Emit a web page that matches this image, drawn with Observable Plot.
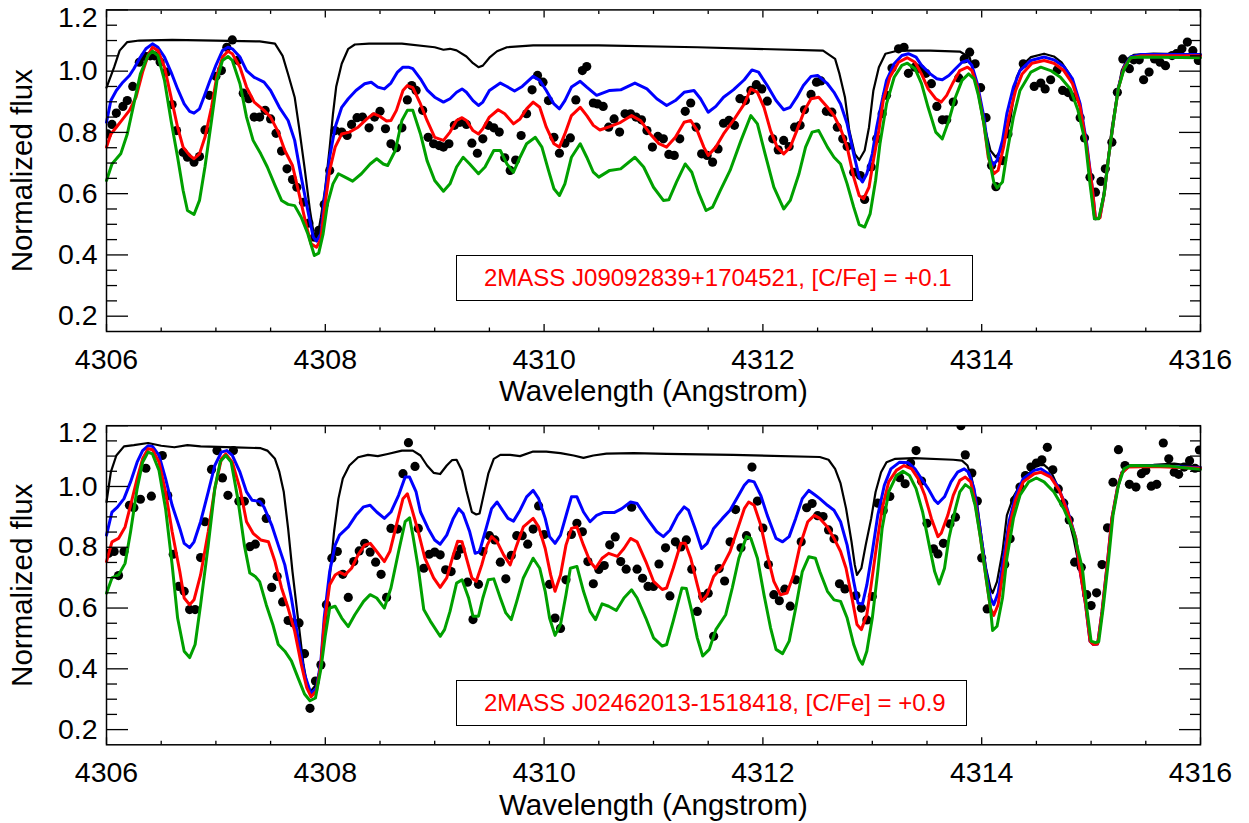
<!DOCTYPE html>
<html>
<head>
<meta charset="utf-8">
<script src="https://cdn.jsdelivr.net/npm/d3@7"></script>
<script src="https://cdn.jsdelivr.net/npm/@observablehq/plot@0.6"></script>
<style>
  html, body { margin: 0; padding: 0; background: #fff; }
  #wrap { position: relative; width: 1249px; height: 823px; overflow: hidden; font-family: "Liberation Sans", Arial, sans-serif; }
  #wrap svg { display: block; }
  .box { position: absolute; box-sizing: border-box; border: 1.5px solid #000; height: 46px; line-height: 43px;
         padding-left: 27px; color: #ff0000; font-size: 24px; white-space: nowrap; font-family: "Liberation Sans", Arial, sans-serif; }
</style>
</head>
<body>
<div id="wrap">
  <div id="p1"></div>
  <div id="p2"></div>
  <div class="box" id="b1" style="left:456px; top:255px; width:517px;"></div>
  <div class="box" id="b2" style="left:456px; top:680px; width:511px;"></div>
</div>
<script>
// ---------- axis ticks / labels ----------
const xTicks = [4306, 4308, 4310, 4312, 4314, 4316];
const xMinor = [4306.5, 4307, 4307.5, 4308.5, 4309, 4309.5, 4310.5, 4311, 4311.5, 4312.5, 4313, 4313.5, 4314.5, 4315, 4315.5];
const yTicks = [0.2, 0.4, 0.6, 0.8, 1.0, 1.2];
const yMinor = [0.25, 0.3, 0.35, 0.45, 0.5, 0.55, 0.65, 0.7, 0.75, 0.85, 0.9, 0.95, 1.05, 1.1, 1.15];
const xLabel = "Wavelength (Angstrom)";
const yLabel = "Normalized flux";
const labelTop = "2MASS J09092839+1704521, [C/Fe] = +0.1";
const labelBottom = "2MASS J02462013-1518418, [C/Fe] = +0.9";

// ---------- top panel: models (wavelength, flux) ----------
const topBlack = [[4306.00,0.946],[4306.07,1.013],[4306.12,1.067],[4306.19,1.095],[4306.30,1.100],[4306.60,1.102],[4307.00,1.100],[4307.40,1.097],[4307.54,1.090],[4307.61,1.050],[4307.66,0.990],[4307.72,0.915],[4307.76,0.817],[4307.81,0.686],[4307.86,0.545],[4307.90,0.456],[4307.93,0.463],[4307.96,0.523],[4308.00,0.620],[4308.04,0.750],[4308.07,0.860],[4308.10,0.950],[4308.15,1.024],[4308.21,1.073],[4308.27,1.087],[4308.40,1.090],[4308.70,1.090],[4309.00,1.078],[4309.08,1.070],[4309.14,1.073],[4309.20,1.068],[4309.29,1.048],[4309.35,1.026],[4309.40,1.013],[4309.44,1.018],[4309.50,1.044],[4309.57,1.065],[4309.66,1.078],[4309.90,1.084],[4310.50,1.084],[4311.40,1.078],[4312.55,1.067],[4312.66,1.040],[4312.70,0.991],[4312.75,0.915],[4312.79,0.806],[4312.84,0.730],[4312.88,0.710],[4312.93,0.741],[4312.97,0.817],[4313.01,0.937],[4313.06,1.013],[4313.12,1.057],[4313.21,1.065],[4313.29,1.067],[4313.53,1.067],[4313.80,1.064],[4313.89,1.045],[4313.96,0.948],[4314.02,0.828],[4314.08,0.741],[4314.13,0.719],[4314.19,0.750],[4314.26,0.839],[4314.32,0.980],[4314.37,1.019],[4314.45,1.046],[4314.57,1.057],[4314.66,1.048],[4314.73,1.029],[4314.81,0.986],[4314.89,0.904],[4314.95,0.774],[4314.99,0.643],[4315.03,0.518],[4315.07,0.518],[4315.11,0.589],[4315.15,0.697],[4315.19,0.817],[4315.24,0.926],[4315.28,1.002],[4315.33,1.040],[4315.39,1.053],[4315.57,1.057],[4316.00,1.054]];
const topBlue = [[4306.00,0.833],[4306.04,0.904],[4306.09,0.937],[4306.15,0.964],[4306.21,0.986],[4306.25,1.008],[4306.30,1.040],[4306.36,1.073],[4306.42,1.089],[4306.47,1.078],[4306.53,1.046],[4306.59,0.997],[4306.65,0.942],[4306.71,0.893],[4306.76,0.869],[4306.80,0.863],[4306.85,0.877],[4306.89,0.915],[4306.94,0.964],[4307.00,1.019],[4307.06,1.067],[4307.11,1.078],[4307.15,1.073],[4307.22,1.046],[4307.28,1.002],[4307.35,0.980],[4307.44,0.964],[4307.50,0.937],[4307.58,0.882],[4307.66,0.839],[4307.72,0.774],[4307.78,0.654],[4307.84,0.545],[4307.89,0.458],[4307.92,0.445],[4307.96,0.469],[4307.99,0.578],[4308.04,0.720],[4308.09,0.817],[4308.15,0.882],[4308.21,0.910],[4308.28,0.937],[4308.36,0.959],[4308.42,0.964],[4308.48,0.948],[4308.54,0.942],[4308.60,0.961],[4308.66,0.997],[4308.71,1.013],[4308.76,1.013],[4308.80,1.008],[4308.87,0.975],[4308.93,0.939],[4309.00,0.915],[4309.08,0.899],[4309.14,0.910],[4309.20,0.931],[4309.25,0.942],[4309.29,0.931],[4309.35,0.904],[4309.40,0.888],[4309.44,0.899],[4309.50,0.937],[4309.60,0.961],[4309.66,0.950],[4309.73,0.935],[4309.80,0.950],[4309.86,0.970],[4309.90,0.983],[4309.96,0.970],[4310.02,0.937],[4310.09,0.893],[4310.14,0.877],[4310.19,0.904],[4310.25,0.948],[4310.33,0.967],[4310.39,0.948],[4310.48,0.921],[4310.60,0.937],[4310.70,0.939],[4310.83,0.961],[4310.94,0.942],[4311.03,0.910],[4311.12,0.888],[4311.20,0.904],[4311.28,0.931],[4311.37,0.937],[4311.43,0.910],[4311.50,0.866],[4311.57,0.885],[4311.64,0.915],[4311.73,0.939],[4311.83,0.972],[4311.90,1.004],[4311.96,0.997],[4312.04,0.953],[4312.12,0.904],[4312.19,0.874],[4312.25,0.882],[4312.31,0.915],[4312.37,0.953],[4312.44,0.983],[4312.50,0.986],[4312.59,0.959],[4312.65,0.931],[4312.71,0.893],[4312.77,0.828],[4312.83,0.730],[4312.88,0.654],[4312.91,0.638],[4312.95,0.665],[4313.00,0.730],[4313.04,0.817],[4313.09,0.904],[4313.13,0.970],[4313.20,1.024],[4313.27,1.051],[4313.33,1.057],[4313.40,1.046],[4313.45,1.019],[4313.53,0.991],[4313.59,0.975],[4313.64,0.972],[4313.70,0.986],[4313.76,1.008],[4313.82,1.029],[4313.87,1.035],[4313.91,1.019],[4313.96,0.959],[4314.02,0.850],[4314.06,0.741],[4314.10,0.692],[4314.14,0.708],[4314.19,0.774],[4314.23,0.861],[4314.29,0.948],[4314.35,1.002],[4314.45,1.035],[4314.57,1.046],[4314.66,1.037],[4314.75,1.015],[4314.83,0.975],[4314.90,0.893],[4314.96,0.763],[4315.01,0.621],[4315.04,0.518],[4315.08,0.523],[4315.12,0.600],[4315.16,0.720],[4315.21,0.850],[4315.25,0.948],[4315.30,1.013],[4315.36,1.046],[4315.45,1.054],[4316.00,1.054]];
const topRed = [[4306.00,0.752],[4306.04,0.795],[4306.09,0.817],[4306.15,0.844],[4306.21,0.872],[4306.27,0.915],[4306.33,0.997],[4306.38,1.051],[4306.42,1.078],[4306.47,1.067],[4306.53,1.013],[4306.59,0.915],[4306.65,0.817],[4306.70,0.752],[4306.76,0.725],[4306.80,0.714],[4306.85,0.730],[4306.90,0.784],[4306.96,0.882],[4307.01,0.986],[4307.06,1.046],[4307.11,1.065],[4307.15,1.057],[4307.22,1.013],[4307.28,0.948],[4307.35,0.899],[4307.44,0.872],[4307.50,0.850],[4307.57,0.801],[4307.63,0.741],[4307.70,0.692],[4307.76,0.600],[4307.83,0.491],[4307.87,0.436],[4307.92,0.425],[4307.96,0.452],[4307.99,0.545],[4308.04,0.676],[4308.09,0.752],[4308.15,0.795],[4308.22,0.801],[4308.30,0.817],[4308.38,0.844],[4308.44,0.861],[4308.50,0.852],[4308.56,0.837],[4308.60,0.839],[4308.65,0.872],[4308.71,0.937],[4308.75,0.953],[4308.80,0.946],[4308.87,0.893],[4308.93,0.839],[4309.00,0.784],[4309.08,0.774],[4309.14,0.801],[4309.20,0.839],[4309.25,0.848],[4309.29,0.839],[4309.35,0.806],[4309.40,0.795],[4309.44,0.812],[4309.50,0.850],[4309.58,0.874],[4309.64,0.861],[4309.72,0.828],[4309.78,0.844],[4309.84,0.877],[4309.90,0.899],[4309.96,0.882],[4310.02,0.817],[4310.09,0.763],[4310.14,0.752],[4310.19,0.795],[4310.25,0.855],[4310.33,0.882],[4310.39,0.855],[4310.45,0.823],[4310.51,0.808],[4310.60,0.819],[4310.70,0.833],[4310.80,0.855],[4310.88,0.839],[4310.97,0.795],[4311.05,0.763],[4311.12,0.752],[4311.20,0.784],[4311.28,0.833],[4311.34,0.839],[4311.40,0.806],[4311.46,0.752],[4311.50,0.725],[4311.57,0.752],[4311.64,0.795],[4311.73,0.839],[4311.83,0.893],[4311.89,0.942],[4311.95,0.931],[4312.01,0.882],[4312.07,0.806],[4312.13,0.752],[4312.19,0.730],[4312.25,0.752],[4312.31,0.806],[4312.38,0.872],[4312.44,0.910],[4312.51,0.915],[4312.59,0.882],[4312.65,0.855],[4312.71,0.812],[4312.77,0.752],[4312.83,0.654],[4312.88,0.594],[4312.92,0.583],[4312.97,0.621],[4313.01,0.708],[4313.06,0.806],[4313.10,0.904],[4313.16,0.980],[4313.24,1.029],[4313.32,1.044],[4313.39,1.029],[4313.45,0.991],[4313.51,0.942],[4313.58,0.910],[4313.63,0.899],[4313.68,0.921],[4313.74,0.964],[4313.80,1.002],[4313.87,1.013],[4313.91,1.002],[4313.96,0.948],[4314.02,0.828],[4314.06,0.719],[4314.11,0.665],[4314.15,0.676],[4314.20,0.752],[4314.25,0.850],[4314.31,0.937],[4314.37,0.991],[4314.46,1.026],[4314.57,1.035],[4314.66,1.026],[4314.75,1.002],[4314.83,0.959],[4314.90,0.882],[4314.96,0.752],[4315.01,0.621],[4315.04,0.518],[4315.08,0.521],[4315.12,0.600],[4315.16,0.720],[4315.21,0.850],[4315.25,0.945],[4315.30,1.010],[4315.36,1.043],[4315.45,1.050],[4316.00,1.050]];
const topGreen = [[4306.00,0.643],[4306.05,0.697],[4306.13,0.730],[4306.19,0.795],[4306.25,0.893],[4306.31,0.991],[4306.38,1.051],[4306.42,1.065],[4306.47,1.051],[4306.53,0.970],[4306.59,0.839],[4306.65,0.719],[4306.70,0.611],[4306.74,0.545],[4306.80,0.532],[4306.85,0.578],[4306.90,0.687],[4306.96,0.839],[4307.01,0.970],[4307.06,1.035],[4307.11,1.048],[4307.15,1.035],[4307.22,0.959],[4307.28,0.850],[4307.34,0.774],[4307.41,0.730],[4307.47,0.687],[4307.54,0.627],[4307.60,0.578],[4307.66,0.565],[4307.72,0.561],[4307.78,0.523],[4307.84,0.469],[4307.90,0.398],[4307.94,0.406],[4307.98,0.469],[4308.02,0.567],[4308.07,0.632],[4308.12,0.665],[4308.18,0.654],[4308.25,0.641],[4308.33,0.665],[4308.41,0.697],[4308.47,0.714],[4308.53,0.697],[4308.57,0.692],[4308.64,0.741],[4308.70,0.839],[4308.75,0.872],[4308.80,0.872],[4308.87,0.795],[4308.93,0.708],[4309.00,0.643],[4309.08,0.608],[4309.14,0.632],[4309.20,0.687],[4309.26,0.719],[4309.32,0.697],[4309.40,0.665],[4309.46,0.687],[4309.54,0.741],[4309.60,0.741],[4309.66,0.697],[4309.72,0.670],[4309.78,0.719],[4309.84,0.763],[4309.92,0.784],[4309.98,0.752],[4310.04,0.676],[4310.09,0.616],[4310.14,0.594],[4310.19,0.632],[4310.25,0.719],[4310.33,0.763],[4310.39,0.719],[4310.45,0.670],[4310.50,0.654],[4310.60,0.676],[4310.70,0.681],[4310.83,0.719],[4310.91,0.687],[4311.00,0.621],[4311.09,0.578],[4311.14,0.580],[4311.21,0.638],[4311.29,0.697],[4311.35,0.670],[4311.41,0.605],[4311.48,0.545],[4311.54,0.556],[4311.61,0.610],[4311.70,0.676],[4311.80,0.774],[4311.89,0.855],[4311.95,0.828],[4312.02,0.730],[4312.10,0.621],[4312.19,0.550],[4312.25,0.578],[4312.33,0.665],[4312.39,0.752],[4312.45,0.801],[4312.51,0.806],[4312.59,0.752],[4312.65,0.719],[4312.71,0.697],[4312.77,0.632],[4312.83,0.556],[4312.88,0.499],[4312.93,0.491],[4312.98,0.534],[4313.03,0.643],[4313.07,0.763],[4313.13,0.893],[4313.20,0.980],[4313.27,1.019],[4313.32,1.026],[4313.39,1.008],[4313.45,0.959],[4313.51,0.882],[4313.58,0.801],[4313.64,0.779],[4313.70,0.839],[4313.76,0.915],[4313.82,0.970],[4313.88,0.991],[4313.93,0.975],[4313.97,0.921],[4314.02,0.828],[4314.06,0.730],[4314.11,0.638],[4314.14,0.619],[4314.19,0.638],[4314.23,0.730],[4314.29,0.850],[4314.35,0.937],[4314.45,0.997],[4314.54,1.013],[4314.63,1.002],[4314.72,0.980],[4314.81,0.942],[4314.88,0.872],[4314.95,0.763],[4314.99,0.632],[4315.03,0.518],[4315.07,0.518],[4315.12,0.600],[4315.16,0.720],[4315.21,0.850],[4315.25,0.945],[4315.30,1.005],[4315.36,1.044],[4315.45,1.046],[4316.00,1.044]];
// ---------- top panel: observed points ----------
const topObs = [[4306.01,0.795],[4306.05,0.826],[4306.09,0.863],[4306.15,0.885],[4306.19,0.904],[4306.24,0.95],[4306.30,1.029],[4306.35,1.048],[4306.40,1.05],[4306.44,1.05],[4306.49,1.03],[4306.55,0.997],[4306.60,0.891],[4306.64,0.806],[4306.70,0.735],[4306.74,0.719],[4306.80,0.703],[4306.85,0.721],[4306.90,0.808],[4306.94,0.921],[4307.00,0.983],[4307.05,1.002],[4307.10,1.078],[4307.15,1.102],[4307.20,1.035],[4307.25,0.928],[4307.30,0.91],[4307.35,0.85],[4307.40,0.85],[4307.45,0.872],[4307.50,0.844],[4307.55,0.797],[4307.60,0.739],[4307.65,0.681],[4307.70,0.646],[4307.74,0.621],[4307.80,0.572],[4307.85,0.504],[4307.90,0.458],[4307.94,0.48],[4307.99,0.565],[4308.04,0.676],[4308.09,0.806],[4308.15,0.801],[4308.20,0.79],[4308.24,0.826],[4308.29,0.848],[4308.34,0.85],[4308.40,0.815],[4308.45,0.85],[4308.50,0.869],[4308.55,0.812],[4308.60,0.763],[4308.65,0.75],[4308.70,0.815],[4308.75,0.906],[4308.79,0.953],[4308.83,0.937],[4308.89,0.872],[4308.94,0.784],[4308.99,0.763],[4309.04,0.757],[4309.08,0.752],[4309.13,0.763],[4309.18,0.823],[4309.23,0.833],[4309.29,0.826],[4309.34,0.765],[4309.39,0.732],[4309.44,0.779],[4309.49,0.823],[4309.54,0.815],[4309.59,0.801],[4309.64,0.717],[4309.69,0.676],[4309.74,0.71],[4309.79,0.79],[4309.84,0.861],[4309.89,0.939],[4309.94,0.986],[4309.99,0.964],[4310.04,0.904],[4310.09,0.784],[4310.14,0.732],[4310.19,0.765],[4310.24,0.782],[4310.29,0.906],[4310.35,1.002],[4310.39,1.015],[4310.45,0.896],[4310.49,0.893],[4310.54,0.885],[4310.59,0.817],[4310.64,0.844],[4310.69,0.801],[4310.74,0.861],[4310.79,0.861],[4310.84,0.85],[4310.89,0.841],[4310.94,0.806],[4310.99,0.752],[4311.04,0.787],[4311.09,0.779],[4311.14,0.728],[4311.19,0.725],[4311.24,0.779],[4311.29,0.869],[4311.34,0.896],[4311.39,0.817],[4311.44,0.73],[4311.49,0.725],[4311.54,0.703],[4311.59,0.746],[4311.64,0.83],[4311.69,0.839],[4311.74,0.823],[4311.79,0.91],[4311.84,0.904],[4311.89,0.937],[4311.94,0.956],[4311.99,0.942],[4312.04,0.902],[4312.09,0.779],[4312.14,0.743],[4312.19,0.774],[4312.24,0.754],[4312.29,0.817],[4312.34,0.823],[4312.38,0.874],[4312.44,0.924],[4312.49,0.964],[4312.53,0.968],[4312.58,0.869],[4312.63,0.866],[4312.68,0.817],[4312.73,0.779],[4312.77,0.754],[4312.83,0.67],[4312.89,0.659],[4312.93,0.581],[4312.99,0.687],[4313.04,0.779],[4313.09,0.861],[4313.13,0.921],[4313.18,1.01],[4313.24,1.073],[4313.29,1.078],[4313.33,0.993],[4313.39,1.013],[4313.44,1.008],[4313.49,0.993],[4313.54,0.959],[4313.59,0.885],[4313.64,0.841],[4313.68,0.841],[4313.74,0.899],[4313.79,0.978],[4313.84,1.04],[4313.89,1.062],[4313.94,1.024],[4313.99,0.946],[4314.04,0.848],[4314.09,0.692],[4314.13,0.623],[4314.19,0.708],[4314.24,0.795],[4314.38,1.024],[4314.48,0.95],[4314.54,0.961],[4314.58,0.942],[4314.63,0.972],[4314.69,1.004],[4314.74,0.937],[4314.79,0.93],[4314.84,0.915],[4314.90,0.848],[4314.94,0.782],[4314.99,0.654],[4315.04,0.605],[4315.09,0.64],[4315.13,0.681],[4315.19,0.768],[4315.24,0.931],[4315.29,1.04],[4315.35,1.008],[4315.39,1.037],[4315.44,1.037],[4315.48,0.972],[4315.53,0.997],[4315.58,1.04],[4315.63,1.029],[4315.68,1.018],[4315.74,1.051],[4315.78,1.057],[4315.83,1.073],[4315.88,1.095],[4315.93,1.067],[4315.98,1.035]];

// ---------- bottom panel: models ----------
const botBlack = [[4306.00,0.949],[4306.04,1.048],[4306.09,1.102],[4306.16,1.132],[4306.25,1.136],[4306.38,1.143],[4306.50,1.134],[4306.62,1.129],[4306.74,1.136],[4306.86,1.132],[4307.17,1.129],[4307.41,1.126],[4307.47,1.118],[4307.54,1.091],[4307.58,1.048],[4307.62,0.983],[4307.66,0.862],[4307.70,0.720],[4307.75,0.567],[4307.80,0.415],[4307.84,0.336],[4307.87,0.328],[4307.92,0.349],[4307.96,0.415],[4308.00,0.546],[4308.04,0.699],[4308.08,0.851],[4308.12,0.960],[4308.16,1.026],[4308.22,1.069],[4308.30,1.096],[4308.39,1.104],[4308.48,1.100],[4308.57,1.107],[4308.70,1.118],[4308.80,1.118],[4308.87,1.102],[4308.93,1.069],[4308.99,1.045],[4309.05,1.041],[4309.11,1.069],[4309.16,1.087],[4309.20,1.088],[4309.25,1.052],[4309.29,0.987],[4309.34,0.916],[4309.38,0.908],[4309.41,0.911],[4309.44,0.960],[4309.49,1.042],[4309.54,1.091],[4309.60,1.104],[4309.69,1.104],[4309.78,1.100],[4309.90,1.115],[4310.02,1.115],[4310.15,1.110],[4310.27,1.102],[4310.36,1.094],[4310.45,1.102],[4310.57,1.108],[4310.82,1.110],[4311.12,1.107],[4311.73,1.104],[4312.52,1.097],[4312.60,1.088],[4312.66,1.058],[4312.71,1.010],[4312.76,0.928],[4312.81,0.818],[4312.84,0.742],[4312.86,0.709],[4312.90,0.731],[4312.94,0.808],[4312.99,0.895],[4313.03,0.982],[4313.08,1.047],[4313.13,1.080],[4313.21,1.091],[4313.38,1.093],[4313.74,1.088],[4313.82,1.085],[4313.87,1.069],[4313.91,1.025],[4313.96,0.938],[4314.00,0.829],[4314.04,0.731],[4314.08,0.665],[4314.10,0.649],[4314.14,0.687],[4314.19,0.785],[4314.23,0.905],[4314.29,0.966],[4314.35,1.004],[4314.43,1.042],[4314.50,1.069],[4314.57,1.071],[4314.63,1.052],[4314.69,1.004],[4314.77,0.928],[4314.84,0.829],[4314.90,0.720],[4314.95,0.611],[4314.99,0.491],[4315.02,0.480],[4315.06,0.482],[4315.10,0.589],[4315.15,0.753],[4315.19,0.895],[4315.24,0.993],[4315.28,1.047],[4315.34,1.069],[4315.57,1.071],[4315.76,1.075],[4316.00,1.064]];
const botBlue = [[4306.00,0.840],[4306.05,0.916],[4306.10,0.932],[4306.16,0.960],[4306.22,1.015],[4306.28,1.080],[4306.33,1.118],[4306.38,1.134],[4306.42,1.132],[4306.48,1.102],[4306.54,1.026],[4306.60,0.938],[4306.67,0.862],[4306.71,0.813],[4306.76,0.799],[4306.80,0.818],[4306.86,0.884],[4306.93,0.982],[4306.99,1.069],[4307.05,1.113],[4307.10,1.118],[4307.15,1.102],[4307.22,1.047],[4307.28,0.982],[4307.33,0.955],[4307.40,0.951],[4307.44,0.932],[4307.51,0.873],[4307.57,0.807],[4307.63,0.742],[4307.69,0.633],[4307.75,0.502],[4307.81,0.382],[4307.87,0.317],[4307.92,0.338],[4307.96,0.426],[4307.99,0.568],[4308.04,0.720],[4308.09,0.807],[4308.13,0.840],[4308.21,0.867],[4308.28,0.905],[4308.35,0.933],[4308.41,0.938],[4308.47,0.916],[4308.54,0.895],[4308.60,0.916],[4308.67,0.971],[4308.73,1.031],[4308.77,1.031],[4308.83,0.982],[4308.87,0.916],[4308.94,0.862],[4309.00,0.824],[4309.05,0.810],[4309.11,0.840],[4309.17,0.895],[4309.22,0.927],[4309.26,0.911],[4309.32,0.851],[4309.37,0.780],[4309.41,0.786],[4309.47,0.862],[4309.52,0.927],[4309.57,0.949],[4309.61,0.927],[4309.67,0.895],[4309.72,0.886],[4309.78,0.922],[4309.84,0.966],[4309.90,0.987],[4309.95,0.960],[4310.01,0.895],[4310.05,0.835],[4310.10,0.813],[4310.15,0.840],[4310.21,0.916],[4310.25,0.966],[4310.30,0.966],[4310.36,0.916],[4310.42,0.884],[4310.48,0.905],[4310.54,0.914],[4310.64,0.914],[4310.71,0.927],[4310.79,0.949],[4310.85,0.944],[4310.94,0.895],[4311.03,0.851],[4311.09,0.835],[4311.15,0.856],[4311.22,0.905],[4311.28,0.933],[4311.32,0.922],[4311.38,0.862],[4311.44,0.796],[4311.49,0.813],[4311.55,0.862],[4311.63,0.895],[4311.70,0.922],[4311.76,0.960],[4311.83,1.004],[4311.87,1.020],[4311.92,1.015],[4311.98,0.971],[4312.04,0.905],[4312.12,0.829],[4312.18,0.818],[4312.24,0.835],[4312.30,0.895],[4312.36,0.960],[4312.42,0.987],[4312.48,0.971],[4312.52,0.960],[4312.59,0.938],[4312.65,0.922],[4312.71,0.884],[4312.77,0.807],[4312.83,0.687],[4312.87,0.616],[4312.91,0.613],[4312.95,0.676],[4313.00,0.785],[4313.05,0.905],[4313.11,1.004],[4313.17,1.058],[4313.25,1.080],[4313.33,1.078],[4313.39,1.058],[4313.45,1.025],[4313.51,0.993],[4313.57,0.955],[4313.60,0.944],[4313.66,0.966],[4313.72,1.015],[4313.78,1.047],[4313.84,1.058],[4313.88,1.047],[4313.93,0.993],[4313.98,0.873],[4314.03,0.742],[4314.08,0.633],[4314.11,0.611],[4314.15,0.649],[4314.20,0.764],[4314.25,0.884],[4314.31,0.971],[4314.38,1.026],[4314.48,1.053],[4314.54,1.058],[4314.61,1.042],[4314.69,1.004],[4314.78,0.928],[4314.86,0.829],[4314.90,0.720],[4314.95,0.611],[4314.99,0.491],[4315.02,0.480],[4315.06,0.482],[4315.10,0.589],[4315.15,0.753],[4315.19,0.895],[4315.24,0.993],[4315.28,1.045],[4315.34,1.066],[4315.57,1.068],[4316.00,1.062]];
const botRed = [[4306.00,0.753],[4306.05,0.818],[4306.11,0.829],[4306.17,0.867],[4306.22,0.938],[4306.28,1.026],[4306.33,1.091],[4306.38,1.124],[4306.42,1.121],[4306.48,1.080],[4306.54,0.982],[4306.60,0.851],[4306.67,0.720],[4306.71,0.633],[4306.76,0.611],[4306.80,0.627],[4306.86,0.709],[4306.93,0.851],[4306.99,0.993],[4307.05,1.091],[4307.09,1.107],[4307.15,1.080],[4307.22,0.993],[4307.28,0.884],[4307.34,0.846],[4307.41,0.824],[4307.48,0.818],[4307.54,0.753],[4307.60,0.666],[4307.66,0.600],[4307.72,0.524],[4307.78,0.415],[4307.83,0.338],[4307.87,0.308],[4307.92,0.328],[4307.96,0.415],[4307.99,0.546],[4308.04,0.677],[4308.09,0.709],[4308.13,0.718],[4308.18,0.709],[4308.24,0.731],[4308.30,0.775],[4308.36,0.807],[4308.41,0.813],[4308.47,0.786],[4308.54,0.753],[4308.59,0.786],[4308.65,0.873],[4308.71,0.960],[4308.75,0.976],[4308.79,0.927],[4308.85,0.851],[4308.91,0.764],[4308.99,0.699],[4309.05,0.668],[4309.11,0.699],[4309.17,0.775],[4309.21,0.820],[4309.25,0.818],[4309.29,0.764],[4309.34,0.699],[4309.38,0.688],[4309.43,0.742],[4309.48,0.807],[4309.52,0.835],[4309.57,0.818],[4309.63,0.775],[4309.69,0.742],[4309.75,0.807],[4309.81,0.867],[4309.90,0.895],[4309.95,0.867],[4310.01,0.796],[4310.06,0.709],[4310.10,0.655],[4310.15,0.709],[4310.20,0.807],[4310.25,0.862],[4310.30,0.867],[4310.36,0.807],[4310.42,0.753],[4310.47,0.731],[4310.53,0.764],[4310.59,0.780],[4310.67,0.770],[4310.73,0.796],[4310.79,0.829],[4310.85,0.818],[4310.93,0.753],[4311.00,0.688],[4311.08,0.661],[4311.12,0.666],[4311.18,0.731],[4311.25,0.813],[4311.29,0.813],[4311.34,0.764],[4311.40,0.677],[4311.44,0.622],[4311.49,0.644],[4311.55,0.704],[4311.63,0.737],[4311.70,0.786],[4311.76,0.851],[4311.83,0.927],[4311.87,0.949],[4311.92,0.938],[4311.98,0.873],[4312.04,0.775],[4312.10,0.688],[4312.16,0.644],[4312.22,0.649],[4312.28,0.709],[4312.34,0.807],[4312.41,0.884],[4312.47,0.905],[4312.52,0.895],[4312.59,0.867],[4312.65,0.829],[4312.71,0.786],[4312.76,0.731],[4312.82,0.622],[4312.86,0.546],[4312.90,0.529],[4312.95,0.578],[4312.99,0.677],[4313.04,0.807],[4313.09,0.927],[4313.15,1.015],[4313.22,1.053],[4313.29,1.069],[4313.36,1.058],[4313.42,1.025],[4313.48,0.971],[4313.54,0.895],[4313.60,0.835],[4313.63,0.846],[4313.69,0.905],[4313.74,0.971],[4313.80,1.020],[4313.85,1.031],[4313.90,1.015],[4313.94,0.949],[4313.99,0.829],[4314.04,0.699],[4314.08,0.600],[4314.11,0.576],[4314.15,0.611],[4314.20,0.731],[4314.25,0.862],[4314.31,0.955],[4314.38,1.015],[4314.48,1.042],[4314.54,1.047],[4314.63,1.031],[4314.71,0.987],[4314.78,0.922],[4314.86,0.829],[4314.90,0.720],[4314.95,0.611],[4314.99,0.491],[4315.02,0.480],[4315.06,0.482],[4315.10,0.589],[4315.15,0.753],[4315.19,0.895],[4315.24,0.993],[4315.28,1.044],[4315.34,1.064],[4315.57,1.066],[4316.00,1.060]];
const botGreen = [[4306.00,0.649],[4306.05,0.699],[4306.11,0.709],[4306.17,0.747],[4306.22,0.851],[4306.28,0.993],[4306.33,1.080],[4306.38,1.113],[4306.42,1.107],[4306.48,1.053],[4306.54,0.927],[4306.60,0.742],[4306.65,0.567],[4306.71,0.458],[4306.76,0.437],[4306.81,0.480],[4306.86,0.611],[4306.93,0.807],[4306.99,0.993],[4307.04,1.082],[4307.09,1.102],[4307.14,1.080],[4307.20,0.960],[4307.26,0.807],[4307.31,0.715],[4307.36,0.704],[4307.40,0.687],[4307.46,0.611],[4307.52,0.546],[4307.57,0.480],[4307.63,0.458],[4307.69,0.426],[4307.75,0.371],[4307.81,0.317],[4307.86,0.295],[4307.91,0.304],[4307.96,0.400],[4308.00,0.510],[4308.04,0.600],[4308.09,0.606],[4308.15,0.567],[4308.21,0.539],[4308.27,0.578],[4308.35,0.622],[4308.41,0.644],[4308.47,0.633],[4308.54,0.600],[4308.60,0.666],[4308.67,0.786],[4308.73,0.884],[4308.77,0.897],[4308.80,0.840],[4308.85,0.731],[4308.90,0.595],[4308.96,0.557],[4309.05,0.507],[4309.09,0.529],[4309.14,0.589],[4309.20,0.682],[4309.25,0.693],[4309.31,0.633],[4309.35,0.573],[4309.40,0.573],[4309.44,0.633],[4309.49,0.693],[4309.54,0.696],[4309.60,0.633],[4309.65,0.584],[4309.70,0.562],[4309.75,0.622],[4309.81,0.699],[4309.87,0.742],[4309.90,0.764],[4309.96,0.731],[4310.01,0.655],[4310.05,0.567],[4310.10,0.510],[4310.15,0.546],[4310.20,0.644],[4310.24,0.731],[4310.30,0.737],[4310.36,0.655],[4310.42,0.589],[4310.47,0.562],[4310.53,0.614],[4310.59,0.606],[4310.66,0.592],[4310.73,0.633],[4310.80,0.660],[4310.85,0.633],[4310.93,0.567],[4311.00,0.502],[4311.08,0.475],[4311.12,0.480],[4311.18,0.557],[4311.26,0.666],[4311.30,0.664],[4311.35,0.589],[4311.40,0.502],[4311.45,0.442],[4311.51,0.464],[4311.57,0.529],[4311.66,0.578],[4311.72,0.666],[4311.78,0.764],[4311.85,0.835],[4311.89,0.829],[4311.95,0.764],[4312.01,0.644],[4312.07,0.535],[4312.12,0.464],[4312.18,0.450],[4312.24,0.491],[4312.30,0.600],[4312.36,0.720],[4312.42,0.769],[4312.48,0.764],[4312.52,0.720],[4312.59,0.655],[4312.65,0.627],[4312.71,0.622],[4312.77,0.567],[4312.83,0.480],[4312.88,0.431],[4312.91,0.415],[4312.95,0.458],[4313.00,0.567],[4313.05,0.720],[4313.09,0.862],[4313.15,0.982],[4313.22,1.036],[4313.28,1.050],[4313.34,1.036],[4313.40,0.993],[4313.46,0.916],[4313.52,0.807],[4313.57,0.720],[4313.61,0.679],[4313.66,0.731],[4313.70,0.829],[4313.76,0.927],[4313.80,0.982],[4313.85,1.006],[4313.90,0.993],[4313.94,0.938],[4313.99,0.829],[4314.04,0.699],[4314.08,0.600],[4314.10,0.526],[4314.14,0.540],[4314.19,0.633],[4314.23,0.764],[4314.29,0.895],[4314.35,0.971],[4314.43,1.015],[4314.50,1.028],[4314.57,1.015],[4314.66,0.982],[4314.75,0.927],[4314.84,0.851],[4314.92,0.731],[4314.96,0.600],[4315.00,0.491],[4315.04,0.486],[4315.07,0.490],[4315.11,0.600],[4315.16,0.760],[4315.20,0.905],[4315.25,1.004],[4315.30,1.058],[4315.36,1.069],[4315.72,1.067],[4316.00,1.056]];
// ---------- bottom panel: observed points ----------
const botObs = [[4306.02,0.78],[4306.07,0.786],[4306.11,0.707],[4306.16,0.786],[4306.21,0.938],[4306.25,0.93],[4306.31,0.958],[4306.36,1.06],[4306.41,0.968],[4306.51,1.102],[4306.56,0.97],[4306.61,0.777],[4306.66,0.671],[4306.71,0.655],[4306.76,0.595],[4306.81,0.595],[4306.86,0.766],[4306.90,0.884],[4306.96,1.056],[4307.01,1.118],[4307.06,1.028],[4307.11,0.971],[4307.16,1.118],[4307.21,0.951],[4307.26,0.951],[4307.31,0.802],[4307.36,0.81],[4307.41,0.949],[4307.46,0.895],[4307.51,0.668],[4307.56,0.704],[4307.61,0.62],[4307.66,0.559],[4307.71,0.551],[4307.76,0.551],[4307.81,0.45],[4307.86,0.27],[4307.91,0.36],[4307.96,0.413],[4308.01,0.611],[4308.06,0.764],[4308.11,0.786],[4308.16,0.711],[4308.21,0.635],[4308.26,0.753],[4308.31,0.788],[4308.36,0.813],[4308.41,0.784],[4308.46,0.751],[4308.51,0.711],[4308.56,0.635],[4308.60,0.862],[4308.66,0.86],[4308.71,1.042],[4308.76,1.144],[4308.82,1.066],[4308.85,0.862],[4308.90,0.731],[4308.95,0.777],[4309.00,0.784],[4309.05,0.775],[4309.10,0.726],[4309.15,0.72],[4309.20,0.773],[4309.24,0.794],[4309.30,0.685],[4309.35,0.562],[4309.40,0.678],[4309.44,0.786],[4309.50,0.838],[4309.55,0.824],[4309.60,0.751],[4309.65,0.696],[4309.70,0.773],[4309.75,0.838],[4309.80,0.838],[4309.85,0.81],[4309.90,0.86],[4309.95,0.936],[4310.00,0.842],[4310.05,0.678],[4310.10,0.567],[4310.15,0.533],[4310.20,0.693],[4310.25,0.842],[4310.30,0.879],[4310.35,0.851],[4310.40,0.753],[4310.45,0.68],[4310.50,0.727],[4310.55,0.74],[4310.60,0.808],[4310.65,0.834],[4310.70,0.753],[4310.75,0.728],[4310.80,0.932],[4310.85,0.728],[4310.90,0.698],[4310.95,0.671],[4311.00,0.671],[4311.05,0.745],[4311.11,0.798],[4311.15,0.64],[4311.20,0.818],[4311.25,0.801],[4311.30,0.824],[4311.35,0.728],[4311.40,0.589],[4311.45,0.638],[4311.50,0.649],[4311.55,0.507],[4311.60,0.73],[4311.65,0.689],[4311.70,0.818],[4311.75,0.924],[4311.80,0.798],[4311.85,0.838],[4311.90,1.064],[4311.95,0.952],[4312.00,0.863],[4312.05,0.743],[4312.10,0.644],[4312.15,0.624],[4312.20,0.662],[4312.25,0.606],[4312.30,0.693],[4312.35,0.818],[4312.40,0.93],[4312.45,0.944],[4312.50,0.904],[4312.55,0.901],[4312.60,0.857],[4312.65,0.828],[4312.70,0.68],[4312.75,0.663],[4312.85,0.641],[4312.90,0.6],[4312.95,0.561],[4313.00,0.638],[4313.05,0.945],[4313.10,0.921],[4313.16,0.967],[4313.25,1.029],[4313.30,1.009],[4313.35,1.077],[4313.40,1.118],[4313.45,1.018],[4313.50,0.879],[4313.56,0.795],[4313.60,0.778],[4313.65,0.813],[4313.71,0.877],[4313.76,0.899],[4313.81,1.2],[4313.85,1.104],[4313.91,1.044],[4313.96,0.952],[4314.00,0.765],[4314.05,0.597],[4314.21,0.743],[4314.26,0.828],[4314.30,0.954],[4314.35,0.998],[4314.40,1.036],[4314.45,1.064],[4314.50,1.077],[4314.55,1.088],[4314.60,1.129],[4314.65,1.055],[4314.70,0.992],[4314.75,0.945],[4314.80,0.89],[4314.85,0.751],[4314.91,0.734],[4314.96,0.644],[4315.00,0.608],[4315.05,0.65],[4315.10,0.743],[4315.15,0.864],[4315.20,1.014],[4315.25,1.121],[4315.31,1.069],[4315.35,1.007],[4315.41,0.998],[4315.46,1.042],[4315.50,1.053],[4315.55,1.001],[4315.60,1.007],[4315.66,1.143],[4315.71,1.091],[4315.76,1.047],[4315.80,1.04],[4315.85,1.064],[4315.90,1.085],[4315.95,1.06],[4315.99,1.12]];

const COLORS = {black: "#000000", blue: "#0000ff", red: "#ff0000", green: "#00a000"};
const FONT = "'Liberation Sans', Arial, Helvetica, sans-serif";

function panel(models, obs, {height, marginTop, marginBottom}) {
  const px = d => d[0], py = d => d[1];
  const blank = () => "";
  return Plot.plot({
    width: 1249, height, marginLeft: 106, marginRight: 49, marginTop, marginBottom,
    style: {fontFamily: FONT, fontSize: "28.5px", color: "#000", background: "#fff", overflow: "visible"},
    x: {domain: [4306, 4316]},
    y: {domain: [0.15, 1.2]},
    marks: [
      Plot.dot(obs, {x: px, y: py, r: 4.6, fill: "#000", clip: true}),
      Plot.line(models.black, {x: px, y: py, stroke: COLORS.black, strokeWidth: 2.2}),
      Plot.line(models.blue, {x: px, y: py, stroke: COLORS.blue, strokeWidth: 3}),
      Plot.line(models.red, {x: px, y: py, stroke: COLORS.red, strokeWidth: 3}),
      Plot.line(models.green, {x: px, y: py, stroke: COLORS.green, strokeWidth: 3}),
      Plot.frame({stroke: "#000", strokeWidth: 1.5}),
      // x axis: inward ticks bottom and top
      Plot.axisX({anchor: "bottom", ticks: xTicks, tickSize: -7, tickPadding: 24, tickFormat: d => String(d), label: null, strokeWidth: 1.3}),
      Plot.axisX({anchor: "bottom", ticks: xMinor, tickSize: -3.5, tickFormat: blank, label: null, strokeWidth: 1.3}),
      Plot.axisX({anchor: "top", ticks: xTicks, tickSize: -7, tickFormat: blank, label: null, strokeWidth: 1.3}),
      Plot.axisX({anchor: "top", ticks: xMinor, tickSize: -3.5, tickFormat: blank, label: null, strokeWidth: 1.3}),
      // y axis: inward ticks left and right
      Plot.axisY({anchor: "left", ticks: yTicks, tickSize: -22, tickPadding: 31, tickFormat: d => d === 1.2 ? "" : d.toFixed(1), label: null, strokeWidth: 1.3}),
      Plot.axisY({anchor: "left", ticks: [1.2], tickSize: 0, tickPadding: 9, dy: 7.5, tickFormat: d => d.toFixed(1), label: null}),
      Plot.axisY({anchor: "left", ticks: yMinor, tickSize: -11, tickFormat: blank, label: null, strokeWidth: 1.3}),
      Plot.axisY({anchor: "right", ticks: yTicks, tickSize: -22, tickFormat: blank, label: null, strokeWidth: 1.3}),
      Plot.axisY({anchor: "right", ticks: yMinor, tickSize: -11, tickFormat: blank, label: null, strokeWidth: 1.3}),
      Plot.text([xLabel], {frameAnchor: "bottom", dy: 49, lineAnchor: "top", fontSize: 29.5, fill: "#000"}),
      Plot.text([yLabel], {frameAnchor: "left", dx: -84, rotate: -90, textAnchor: "middle", lineAnchor: "middle", fontSize: 29.5, fill: "#000"})
    ]
  });
}

document.getElementById("p1").append(panel(
  {black: topBlack, blue: topBlue, red: topRed, green: topGreen}, topObs,
  {height: 412, marginTop: 9.4, marginBottom: 81}));
document.getElementById("p2").append(panel(
  {black: botBlack, blue: botBlue, red: botRed, green: botGreen}, botObs,
  {height: 411, marginTop: 13.2, marginBottom: 78.7}));
document.getElementById("b1").textContent = labelTop;
document.getElementById("b2").textContent = labelBottom;
</script>
</body>
</html>
